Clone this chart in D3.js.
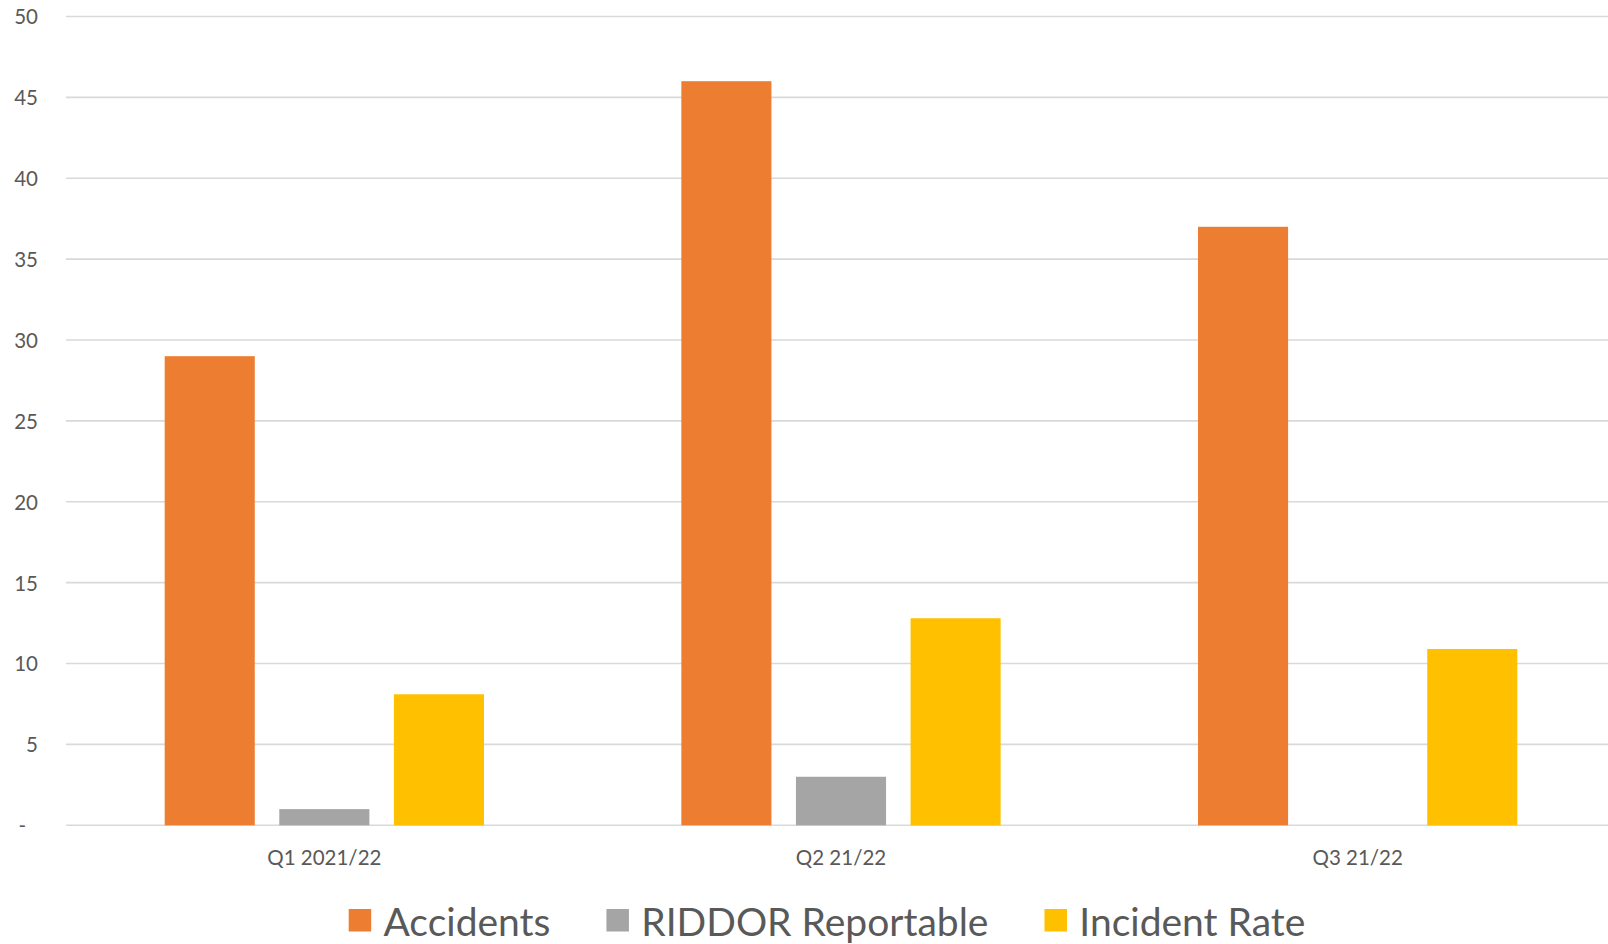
<!DOCTYPE html>
<html>
<head>
<meta charset="utf-8">
<script src="https://cdn.jsdelivr.net/npm/d3@7"></script>
<style>
  html, body { margin: 0; padding: 0; background: #ffffff; }
  svg { display: block; font-family: Lato, "Open Sans", sans-serif; }
</style>
</head>
<body>
<svg id="chart" width="1608" height="944"></svg>
<script>
// Quarterly health & safety figures
const quarters = ["Q1 2021/22", "Q2 21/22", "Q3 21/22"];
const seriesNames = ["Accidents", "RIDDOR Reportable", "Incident Rate"];
const accidents = [29, 46, 37];
const riddorReportable = [1, 3, 0];
const incidentRate = [8.1, 12.8, 10.9];
const yTicks = [0, 5, 10, 15, 20, 25, 30, 35, 40, 45, 50];
const seriesColors = ["#ED7D31", "#A5A5A5", "#FFC000"];

const seriesValues = [accidents, riddorReportable, incidentRate];
const rows = quarters.map((q, i) => ({
  quarter: q,
  values: seriesNames.map((s, j) => ({ series: s, value: seriesValues[j][i] }))
}));

const svg = d3.select("#chart");
const margin = { left: 66, right: -8, top: 16.5, bottom: 118.7 };
const width = 1608, height = 944;

const x0 = d3.scaleBand()
  .domain(quarters)
  .range([margin.left, width - margin.right])
  .paddingInner(0)
  .paddingOuter(0);

const bw = x0.bandwidth();
const x1 = d3.scaleBand()
  .domain(seriesNames)
  .range([bw * 0.191, bw * 0.809])
  .paddingInner(0.214)
  .paddingOuter(0);

const y = d3.scaleLinear()
  .domain([0, 50])
  .range([height - margin.bottom, margin.top]);

const color = d3.scaleOrdinal().domain(seriesNames).range(seriesColors);

// Horizontal gridlines
svg.append("g")
  .selectAll("line")
  .data(yTicks)
  .join("line")
  .attr("x1", margin.left)
  .attr("x2", width)
  .attr("y1", d => y(d))
  .attr("y2", d => y(d))
  .attr("stroke", "#D9D9D9")
  .attr("stroke-width", 1.6);

// Y axis labels (zero shown as a dash)
const yAxis = svg.append("g")
  .attr("transform", `translate(38,0)`)
  .call(d3.axisLeft(y).tickValues(yTicks).tickSize(0).tickPadding(0)
    .tickFormat(d => d === 0 ? "-" : d3.format("d")(d)));
yAxis.select(".domain").remove();
yAxis.selectAll("text")
  .attr("font-family", "Lato, sans-serif")
  .attr("font-size", 20.5)
  .attr("fill", "#595959")
  .attr("dy", "0.36em")
  .attr("dx", d => d === 0 ? -12 : 0);

// Bars
svg.append("g")
  .selectAll("g")
  .data(rows)
  .join("g")
  .attr("transform", d => `translate(${x0(d.quarter)},0)`)
  .selectAll("rect")
  .data(d => d.values)
  .join("rect")
  .attr("x", d => x1(d.series))
  .attr("width", x1.bandwidth())
  .attr("y", d => y(d.value))
  .attr("height", d => y(0) - y(d.value))
  .attr("fill", d => color(d.series));

// X axis category labels
const xAxis = svg.append("g")
  .attr("transform", `translate(0,${y(0)})`)
  .call(d3.axisBottom(x0).tickSize(0).tickPadding(0));
xAxis.select(".domain").remove();
xAxis.selectAll("text")
  .attr("font-family", "Lato, sans-serif")
  .attr("font-size", 20.5)
  .attr("fill", "#595959")
  .attr("y", 40)
  .attr("dy", 0);

// Legend, laid out left to right
const legend = svg.append("g").attr("transform", "translate(348.7,0)");
const sq = 22.5, sqGap = 12.3, itemGap = 56;
let cursor = 0;
seriesNames.forEach(name => {
  const item = legend.append("g").attr("transform", `translate(${cursor},0)`);
  item.append("rect")
    .attr("x", 0).attr("y", 909)
    .attr("width", sq).attr("height", sq)
    .attr("fill", color(name));
  const t = item.append("text")
    .attr("x", sq + sqGap)
    .attr("y", 935.5)
    .attr("font-family", "Lato, sans-serif")
    .attr("font-size", 39)
    .attr("fill", "#595959")
    .text(name);
  cursor += sq + sqGap + t.node().getComputedTextLength() + itemGap;
});
</script>
</body>
</html>
